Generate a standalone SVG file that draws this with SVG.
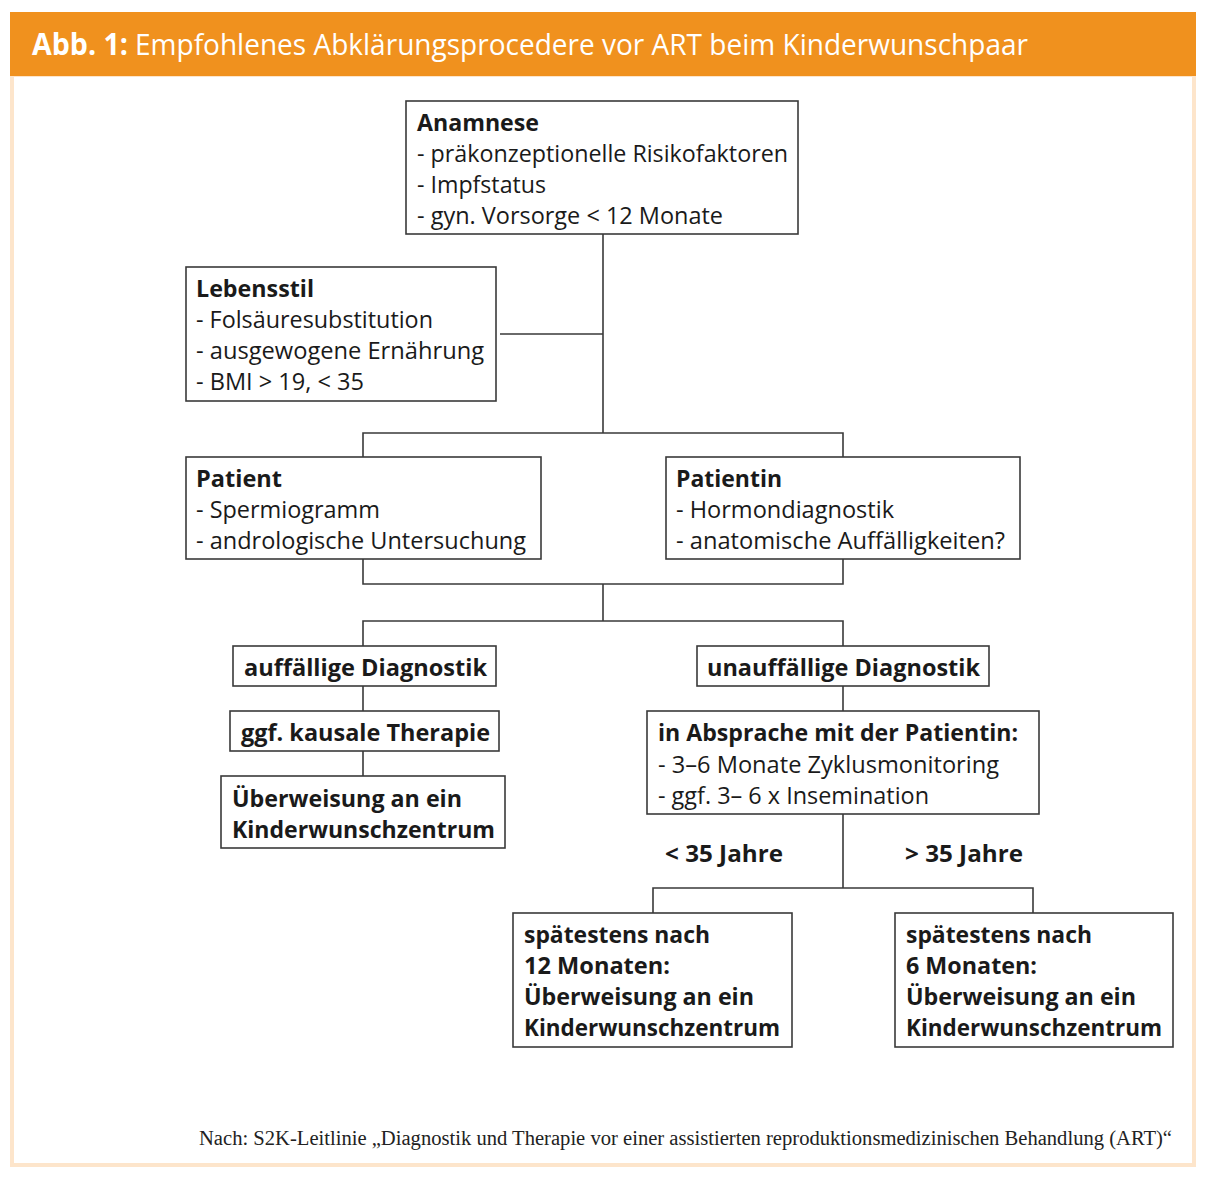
<svg xmlns="http://www.w3.org/2000/svg" width="1208" height="1178" viewBox="0 0 1208 1178">
<style>
.box{fill:#fff;stroke:#3a3a3a;stroke-width:1.6}
.ln{stroke:#3a3a3a;stroke-width:1.6;fill:none}
text{font-family:"Open Sans","Noto Sans",sans-serif;font-size:24px;fill:#1a1a1a}
.b{font-weight:bold}
.t{font-size:30px;fill:#fff}
.src{font-family:"Liberation Serif",serif;font-size:20px;fill:#222}
</style>
<rect x="0" y="0" width="1208" height="1178" fill="#fff"/>
<rect x="12" y="75" width="1182" height="1090" fill="#fff" stroke="#fde5cb" stroke-width="4"/>
<rect x="10" y="12" width="1186" height="64" fill="#f0911e"/>
<text x="32" y="55" class="t b" textLength="96" lengthAdjust="spacingAndGlyphs">Abb. 1:</text>
<text x="135" y="55" class="t" textLength="893" lengthAdjust="spacingAndGlyphs">Empfohlenes Abklärungsprocedere vor ART beim Kinderwunschpaar</text>

<g id="connectors">
<path class="ln" d="M603 234V433M500 334H603M363 457V433H843V457M363 559V584H843V559M603 584V621M363 646V621H843V646M363 686V711M363 751V776M843 686V711M843 814V888M653 913V888H1033V913"/>
</g>

<g id="anamnese">
<rect class="box" x="406" y="101" width="392" height="133"/>
<text x="417" y="131" class="b" textLength="122" lengthAdjust="spacingAndGlyphs">Anamnese</text>
<text x="417" y="162" textLength="371" lengthAdjust="spacingAndGlyphs">- präkonzeptionelle Risikofaktoren</text>
<text x="417" y="193" textLength="129" lengthAdjust="spacingAndGlyphs">- Impfstatus</text>
<text x="417" y="224" textLength="306" lengthAdjust="spacingAndGlyphs">- gyn. Vorsorge &lt; 12 Monate</text>
</g>

<g id="lebensstil">
<rect class="box" x="186" y="267" width="310" height="134"/>
<text x="196" y="297" class="b" textLength="118" lengthAdjust="spacingAndGlyphs">Lebensstil</text>
<text x="196" y="328" textLength="237" lengthAdjust="spacingAndGlyphs">- Folsäuresubstitution</text>
<text x="196" y="359" textLength="288" lengthAdjust="spacingAndGlyphs">- ausgewogene Ernährung</text>
<text x="196" y="390" textLength="168" lengthAdjust="spacingAndGlyphs">- BMI &gt; 19, &lt; 35</text>
</g>

<g id="patient">
<rect class="box" x="186" y="457" width="355" height="102"/>
<text x="196" y="487" class="b" textLength="86" lengthAdjust="spacingAndGlyphs">Patient</text>
<text x="196" y="518" textLength="184" lengthAdjust="spacingAndGlyphs">- Spermiogramm</text>
<text x="196" y="549" textLength="330" lengthAdjust="spacingAndGlyphs">- andrologische Untersuchung</text>
</g>

<g id="patientin">
<rect class="box" x="666" y="457" width="354" height="102"/>
<text x="676" y="487" class="b" textLength="106" lengthAdjust="spacingAndGlyphs">Patientin</text>
<text x="676" y="518" textLength="218" lengthAdjust="spacingAndGlyphs">- Hormondiagnostik</text>
<text x="676" y="549" textLength="329" lengthAdjust="spacingAndGlyphs">- anatomische Auffälligkeiten?</text>
</g>

<g id="auffaellig">
<rect class="box" x="233" y="646" width="263" height="40"/>
<text x="244" y="676" class="b" textLength="243" lengthAdjust="spacingAndGlyphs">auffällige Diagnostik</text>
</g>

<g id="kausal">
<rect class="box" x="230" y="711" width="269" height="40"/>
<text x="241" y="741" class="b" textLength="249" lengthAdjust="spacingAndGlyphs">ggf. kausale Therapie</text>
</g>

<g id="ueberweisung">
<rect class="box" x="221" y="776" width="284" height="72"/>
<text x="232" y="807" class="b" textLength="230" lengthAdjust="spacingAndGlyphs">Überweisung an ein</text>
<text x="232" y="838" class="b" textLength="263" lengthAdjust="spacingAndGlyphs">Kinderwunschzentrum</text>
</g>

<g id="unauffaellig">
<rect class="box" x="697" y="646" width="292" height="40"/>
<text x="707" y="676" class="b" textLength="273" lengthAdjust="spacingAndGlyphs">unauffällige Diagnostik</text>
</g>

<g id="absprache">
<rect class="box" x="647" y="711" width="392" height="103"/>
<text x="658" y="741" class="b" textLength="360" lengthAdjust="spacingAndGlyphs">in Absprache mit der Patientin:</text>
<text x="658" y="773" textLength="341" lengthAdjust="spacingAndGlyphs">- 3–6 Monate Zyklusmonitoring</text>
<text x="658" y="804" textLength="271" lengthAdjust="spacingAndGlyphs">- ggf. 3– 6 x Insemination</text>
</g>

<g id="labels">
<text x="665" y="862" class="b" textLength="118" lengthAdjust="spacingAndGlyphs">&lt; 35 Jahre</text>
<text x="905" y="862" class="b" textLength="118" lengthAdjust="spacingAndGlyphs">&gt; 35 Jahre</text>
</g>

<g id="spaet12">
<rect class="box" x="513" y="913" width="279" height="134"/>
<text x="524" y="943" class="b" textLength="186" lengthAdjust="spacingAndGlyphs">spätestens nach</text>
<text x="524" y="974" class="b" textLength="146" lengthAdjust="spacingAndGlyphs">12 Monaten:</text>
<text x="524" y="1005" class="b" textLength="230" lengthAdjust="spacingAndGlyphs">Überweisung an ein</text>
<text x="524" y="1036" class="b" textLength="256" lengthAdjust="spacingAndGlyphs">Kinderwunschzentrum</text>
</g>

<g id="spaet6">
<rect class="box" x="895" y="913" width="278" height="134"/>
<text x="906" y="943" class="b" textLength="186" lengthAdjust="spacingAndGlyphs">spätestens nach</text>
<text x="906" y="974" class="b" textLength="131" lengthAdjust="spacingAndGlyphs">6 Monaten:</text>
<text x="906" y="1005" class="b" textLength="230" lengthAdjust="spacingAndGlyphs">Überweisung an ein</text>
<text x="906" y="1036" class="b" textLength="256" lengthAdjust="spacingAndGlyphs">Kinderwunschzentrum</text>
</g>

<text x="199" y="1145" class="src" textLength="973" lengthAdjust="spacingAndGlyphs">Nach: S2K-Leitlinie „Diagnostik und Therapie vor einer assistierten reproduktionsmedizinischen Behandlung (ART)“</text>
</svg>
